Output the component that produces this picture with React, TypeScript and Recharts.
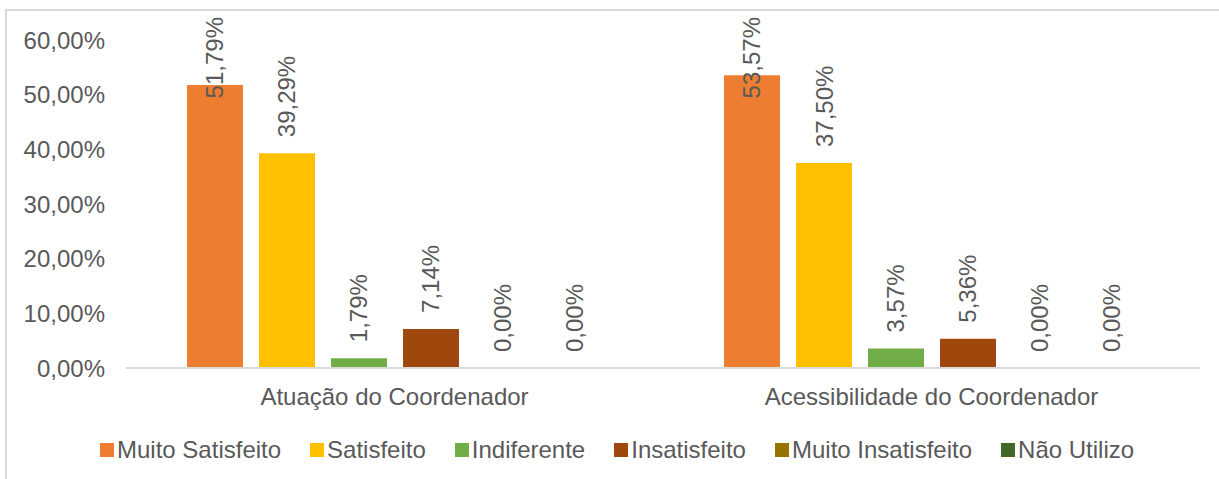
import React from "react";
import { Bar, BarChart, LabelList, XAxis, YAxis } from "recharts";

const categories = ["Atuação do Coordenador", "Acessibilidade do Coordenador"];
const seriesNames = ["Muito Satisfeito", "Satisfeito", "Indiferente", "Insatisfeito", "Muito Insatisfeito", "Não Utilizo"];
const seriesColors = ["#ED7D31", "#FFC000", "#70AD47", "#9E480E", "#997300", "#43682B"];
const muitoSatisfeito = [51.79, 53.57];
const satisfeito = [39.29, 37.5];
const indiferente = [1.79, 3.57];
const insatisfeito = [7.14, 5.36];
const muitoInsatisfeito = [0, 0];
const naoUtilizo = [0, 0];
const yTicks = [0, 10, 20, 30, 40, 50, 60];

const seriesValues = [muitoSatisfeito, satisfeito, indiferente, insatisfeito, muitoInsatisfeito, naoUtilizo];
const data = categories.map((name, i) => {
  const row: Record<string, string | number> = { name };
  seriesNames.forEach((s, j) => { row[s] = seriesValues[j][i]; });
  return row;
});

const FONT = "'Liberation Sans', Arial, sans-serif";
const GREY = "#595959";
const fmt = (v: number) => v.toFixed(2).replace(".", ",") + "%";

function textWidth(s: string, size: number) {
  let w = 0;
  for (const c of s) w += c === "," ? 0.278 : c === "%" ? 0.889 : 0.556;
  return w * size;
}

function RotatedLabel(props: any) {
  const { x, y, width, value } = props;
  const label = fmt(Number(value));
  const cx = Number(x) + Number(width) / 2;
  const start = Math.max(Number(y) - 16, 17 + textWidth(label, 24));
  return (
    <text x={cx} y={start} transform={`rotate(-90, ${cx}, ${start})`} textAnchor="start" dominantBaseline="central"
      fill={GREY} fontSize={24} fontFamily={FONT}>{label}</text>
  );
}

export default function App() {
  return (
    <div style={{ position: "fixed", left: 0, top: 0, width: 1219, height: 479, background: "#fff", overflow: "hidden" }}>
      <div style={{ position: "absolute", left: 5, top: 9, width: 1300, height: 600, border: "2px solid #d9d9d9" }} />
      <div style={{ position: "absolute", left: 0, top: 0 }}>
        <BarChart width={1219} height={479} data={data} margin={{ top: 40, right: 19, left: 0, bottom: 69 }} barSize={56} barGap={16}>
          <YAxis domain={[0, 60]} ticks={yTicks} width={126} axisLine={false} tickLine={false} tickSize={0} tickMargin={21}
            tickFormatter={fmt} tick={{ fill: GREY, fontSize: 24, fontFamily: FONT }} />
          <XAxis dataKey="name" height={42} axisLine={{ stroke: "#d9d9d9", strokeWidth: 2 }} tickLine={false} tickSize={0} tickMargin={20}
            tick={{ fill: GREY, fontSize: 24, fontFamily: FONT }} />
          {seriesNames.map((s, j) => (
            <Bar key={s} dataKey={s} fill={seriesColors[j]} minPointSize={0.01} isAnimationActive={false}>
              <LabelList dataKey={s} content={RotatedLabel} />
            </Bar>
          ))}
        </BarChart>
      </div>
      <div style={{ position: "absolute", left: 100, top: 438, height: 24, display: "flex", alignItems: "center", gap: 29,
        fontFamily: FONT, fontSize: 24, lineHeight: "24px", color: GREY, whiteSpace: "nowrap" }}>
        {seriesNames.map((s, j) => (
          <div key={s} style={{ display: "flex", alignItems: "center" }}>
            <span style={{ display: "inline-block", width: 14, height: 14, background: seriesColors[j], marginRight: 3 }} />
            <span>{s}</span>
          </div>
        ))}
      </div>
    </div>
  );
}
